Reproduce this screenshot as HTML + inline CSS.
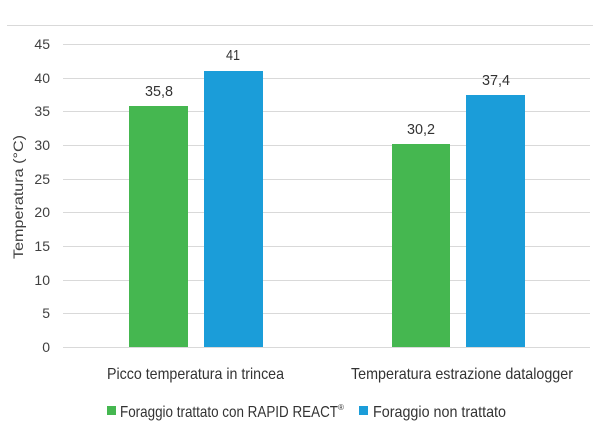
<!DOCTYPE html>
<html><head><meta charset="utf-8"><style>
html,body{margin:0;padding:0;background:#fff;}
svg{display:block;font-family:"Liberation Sans",sans-serif;}
</style></head><body>
<svg width="604" height="427" viewBox="0 0 604 427" xmlns="http://www.w3.org/2000/svg">
<rect width="604" height="427" fill="#fff"/>
<line x1="7" y1="25.5" x2="593" y2="25.5" stroke="#d9d9d9" stroke-width="1"/>
<g stroke="#d9d9d9" stroke-width="1">
<line x1="63" y1="44.5" x2="590" y2="44.5"/>
<line x1="63" y1="78.5" x2="590" y2="78.5"/>
<line x1="63" y1="111.5" x2="590" y2="111.5"/>
<line x1="63" y1="145.5" x2="590" y2="145.5"/>
<line x1="63" y1="179.5" x2="590" y2="179.5"/>
<line x1="63" y1="212.5" x2="590" y2="212.5"/>
<line x1="63" y1="246.5" x2="590" y2="246.5"/>
<line x1="63" y1="280.5" x2="590" y2="280.5"/>
<line x1="63" y1="313.5" x2="590" y2="313.5"/>
<line x1="63" y1="347.5" x2="590" y2="347.5"/>
</g>
<g font-size="14" fill="#404040" text-anchor="end">
<text x="50" y="49">45</text><text x="50" y="83">40</text><text x="50" y="116">35</text>
<text x="50" y="150">30</text><text x="50" y="184">25</text><text x="50" y="217">20</text>
<text x="50" y="251">15</text><text x="50" y="285">10</text><text x="50" y="318">5</text>
<text x="50" y="352">0</text>
</g>
<text transform="translate(23,197) rotate(-90)" text-anchor="middle" font-size="14" fill="#404040" textLength="124" lengthAdjust="spacingAndGlyphs">Temperatura (°C)</text>
<rect x="129" y="106" width="59" height="241" fill="#45b750"/>
<rect x="204" y="71" width="59" height="276" fill="#1b9dd9"/>
<rect x="392" y="144" width="58" height="203" fill="#45b750"/>
<rect x="466" y="95" width="59" height="252" fill="#1b9dd9"/>
<g font-size="14.5" fill="#333">
<text x="145" y="96" textLength="28" lengthAdjust="spacingAndGlyphs">35,8</text>
<text x="226" y="60" textLength="14" lengthAdjust="spacingAndGlyphs">41</text>
<text x="407" y="134" textLength="28" lengthAdjust="spacingAndGlyphs">30,2</text>
<text x="482" y="85" textLength="28" lengthAdjust="spacingAndGlyphs">37,4</text>
</g>
<g font-size="16" fill="#333">
<text x="107" y="379" textLength="177" lengthAdjust="spacingAndGlyphs">Picco temperatura in trincea</text>
<text x="351" y="379" textLength="222" lengthAdjust="spacingAndGlyphs">Temperatura estrazione datalogger</text>
</g>
<rect x="107" y="406" width="9" height="9" fill="#45b750"/>
<text x="120" y="417" font-size="16" fill="#333" textLength="218" lengthAdjust="spacingAndGlyphs">Foraggio trattato con RAPID REACT</text>
<text x="338" y="410" font-size="8" fill="#333">®</text>
<rect x="359" y="406" width="9" height="9" fill="#1b9dd9"/>
<text x="373" y="417" font-size="16" fill="#333" textLength="133" lengthAdjust="spacingAndGlyphs">Foraggio non trattato</text>
</svg>
</body></html>
